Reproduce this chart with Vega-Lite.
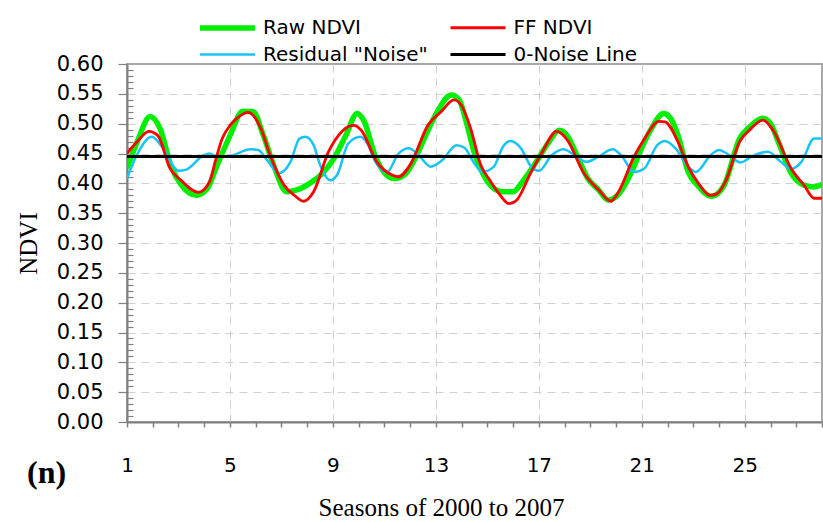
{
  "$schema": "https://vega.github.io/schema/vega-lite/v6.json",
  "autosize": {"type": "none"},
  "padding": {"left": 127, "top": 64, "right": 1, "bottom": 100},
  "width": 695,
  "height": 358,
  "background": "white",
  "config": {
    "view": {"stroke": "#a8a8a8", "strokeWidth": 2},
    "font": "DejaVu Sans"
  },
  "title": {
    "text": "(n)",
    "orient": "bottom",
    "anchor": "start",
    "frame": "group",
    "font": "Liberation Serif",
    "fontWeight": "bold",
    "fontSize": 32,
    "color": "black",
    "offset": -62,
    "dx": -100
  },
  "data": {
    "values": [
      {"s": 1.0, "v": 0.425, "series": "Raw NDVI"},
      {"s": 1.4, "v": 0.47, "series": "Raw NDVI"},
      {"s": 1.9, "v": 0.512, "series": "Raw NDVI"},
      {"s": 2.3, "v": 0.49, "series": "Raw NDVI"},
      {"s": 2.7, "v": 0.43, "series": "Raw NDVI"},
      {"s": 3.1, "v": 0.398, "series": "Raw NDVI"},
      {"s": 3.7, "v": 0.38, "series": "Raw NDVI"},
      {"s": 4.1, "v": 0.39, "series": "Raw NDVI"},
      {"s": 4.5, "v": 0.43, "series": "Raw NDVI"},
      {"s": 5.0, "v": 0.48, "series": "Raw NDVI"},
      {"s": 5.5, "v": 0.521, "series": "Raw NDVI"},
      {"s": 5.9, "v": 0.52, "series": "Raw NDVI"},
      {"s": 6.3, "v": 0.48, "series": "Raw NDVI"},
      {"s": 6.7, "v": 0.43, "series": "Raw NDVI"},
      {"s": 7.2, "v": 0.386, "series": "Raw NDVI"},
      {"s": 7.6, "v": 0.389, "series": "Raw NDVI"},
      {"s": 8.1, "v": 0.4, "series": "Raw NDVI"},
      {"s": 8.6, "v": 0.417, "series": "Raw NDVI"},
      {"s": 9.0, "v": 0.439, "series": "Raw NDVI"},
      {"s": 9.5, "v": 0.48, "series": "Raw NDVI"},
      {"s": 9.94, "v": 0.517, "series": "Raw NDVI"},
      {"s": 10.2, "v": 0.505, "series": "Raw NDVI"},
      {"s": 10.65, "v": 0.445, "series": "Raw NDVI"},
      {"s": 11.0, "v": 0.418, "series": "Raw NDVI"},
      {"s": 11.4, "v": 0.408, "series": "Raw NDVI"},
      {"s": 11.8, "v": 0.415, "series": "Raw NDVI"},
      {"s": 12.2, "v": 0.442, "series": "Raw NDVI"},
      {"s": 12.6, "v": 0.48, "series": "Raw NDVI"},
      {"s": 12.98, "v": 0.514, "series": "Raw NDVI"},
      {"s": 13.6, "v": 0.548, "series": "Raw NDVI"},
      {"s": 13.9, "v": 0.54, "series": "Raw NDVI"},
      {"s": 14.2, "v": 0.5, "series": "Raw NDVI"},
      {"s": 14.5, "v": 0.45, "series": "Raw NDVI"},
      {"s": 14.9, "v": 0.41, "series": "Raw NDVI"},
      {"s": 15.3, "v": 0.39, "series": "Raw NDVI"},
      {"s": 15.6, "v": 0.386, "series": "Raw NDVI"},
      {"s": 16.0, "v": 0.386, "series": "Raw NDVI"},
      {"s": 16.4, "v": 0.405, "series": "Raw NDVI"},
      {"s": 16.9, "v": 0.436, "series": "Raw NDVI"},
      {"s": 17.4, "v": 0.47, "series": "Raw NDVI"},
      {"s": 17.8, "v": 0.489, "series": "Raw NDVI"},
      {"s": 18.1, "v": 0.48, "series": "Raw NDVI"},
      {"s": 18.5, "v": 0.445, "series": "Raw NDVI"},
      {"s": 18.9, "v": 0.408, "series": "Raw NDVI"},
      {"s": 19.3, "v": 0.39, "series": "Raw NDVI"},
      {"s": 19.7, "v": 0.372, "series": "Raw NDVI"},
      {"s": 20.1, "v": 0.382, "series": "Raw NDVI"},
      {"s": 20.6, "v": 0.419, "series": "Raw NDVI"},
      {"s": 21.0, "v": 0.46, "series": "Raw NDVI"},
      {"s": 21.35, "v": 0.49, "series": "Raw NDVI"},
      {"s": 21.85, "v": 0.517, "series": "Raw NDVI"},
      {"s": 22.1, "v": 0.51, "series": "Raw NDVI"},
      {"s": 22.4, "v": 0.481, "series": "Raw NDVI"},
      {"s": 22.8, "v": 0.419, "series": "Raw NDVI"},
      {"s": 23.2, "v": 0.395, "series": "Raw NDVI"},
      {"s": 23.7, "v": 0.378, "series": "Raw NDVI"},
      {"s": 24.2, "v": 0.397, "series": "Raw NDVI"},
      {"s": 24.8, "v": 0.475, "series": "Raw NDVI"},
      {"s": 25.2, "v": 0.495, "series": "Raw NDVI"},
      {"s": 25.7, "v": 0.509, "series": "Raw NDVI"},
      {"s": 26.0, "v": 0.5, "series": "Raw NDVI"},
      {"s": 26.3, "v": 0.47, "series": "Raw NDVI"},
      {"s": 26.8, "v": 0.417, "series": "Raw NDVI"},
      {"s": 27.3, "v": 0.397, "series": "Raw NDVI"},
      {"s": 27.7, "v": 0.394, "series": "Raw NDVI"},
      {"s": 28.0, "v": 0.398, "series": "Raw NDVI"},

      {"s": 1.0, "v": 0.408, "series": "Residual \"Noise\""},
      {"s": 1.38, "v": 0.447, "series": "Residual \"Noise\""},
      {"s": 1.96, "v": 0.478, "series": "Residual \"Noise\""},
      {"s": 2.4, "v": 0.459, "series": "Residual \"Noise\""},
      {"s": 3.0, "v": 0.421, "series": "Residual \"Noise\""},
      {"s": 3.3, "v": 0.423, "series": "Residual \"Noise\""},
      {"s": 3.97, "v": 0.447, "series": "Residual \"Noise\""},
      {"s": 4.2, "v": 0.45, "series": "Residual \"Noise\""},
      {"s": 4.5, "v": 0.445, "series": "Residual \"Noise\""},
      {"s": 5.0, "v": 0.446, "series": "Residual \"Noise\""},
      {"s": 5.8, "v": 0.457, "series": "Residual \"Noise\""},
      {"s": 6.1, "v": 0.456, "series": "Residual \"Noise\""},
      {"s": 6.44, "v": 0.439, "series": "Residual \"Noise\""},
      {"s": 6.9, "v": 0.417, "series": "Residual \"Noise\""},
      {"s": 7.35, "v": 0.436, "series": "Residual \"Noise\""},
      {"s": 7.7, "v": 0.475, "series": "Residual \"Noise\""},
      {"s": 7.93, "v": 0.478, "series": "Residual \"Noise\""},
      {"s": 8.25, "v": 0.464, "series": "Residual \"Noise\""},
      {"s": 8.5, "v": 0.431, "series": "Residual \"Noise\""},
      {"s": 8.9, "v": 0.405, "series": "Residual \"Noise\""},
      {"s": 9.16, "v": 0.414, "series": "Residual \"Noise\""},
      {"s": 9.6, "v": 0.467, "series": "Residual \"Noise\""},
      {"s": 10.07, "v": 0.478, "series": "Residual \"Noise\""},
      {"s": 10.33, "v": 0.467, "series": "Residual \"Noise\""},
      {"s": 10.65, "v": 0.436, "series": "Residual \"Noise\""},
      {"s": 11.1, "v": 0.419, "series": "Residual \"Noise\""},
      {"s": 11.55, "v": 0.45, "series": "Residual \"Noise\""},
      {"s": 11.95, "v": 0.459, "series": "Residual \"Noise\""},
      {"s": 12.33, "v": 0.447, "series": "Residual \"Noise\""},
      {"s": 12.8, "v": 0.428, "series": "Residual \"Noise\""},
      {"s": 13.25, "v": 0.439, "series": "Residual \"Noise\""},
      {"s": 13.8, "v": 0.464, "series": "Residual \"Noise\""},
      {"s": 14.1, "v": 0.46, "series": "Residual \"Noise\""},
      {"s": 14.5, "v": 0.433, "series": "Residual \"Noise\""},
      {"s": 14.8, "v": 0.419, "series": "Residual \"Noise\""},
      {"s": 15.25, "v": 0.428, "series": "Residual \"Noise\""},
      {"s": 15.6, "v": 0.461, "series": "Residual \"Noise\""},
      {"s": 15.9, "v": 0.471, "series": "Residual \"Noise\""},
      {"s": 16.3, "v": 0.459, "series": "Residual \"Noise\""},
      {"s": 16.7, "v": 0.428, "series": "Residual \"Noise\""},
      {"s": 17.0, "v": 0.421, "series": "Residual \"Noise\""},
      {"s": 17.5, "v": 0.447, "series": "Residual \"Noise\""},
      {"s": 17.95, "v": 0.457, "series": "Residual \"Noise\""},
      {"s": 18.4, "v": 0.447, "series": "Residual \"Noise\""},
      {"s": 18.85, "v": 0.436, "series": "Residual \"Noise\""},
      {"s": 19.4, "v": 0.447, "series": "Residual \"Noise\""},
      {"s": 19.86, "v": 0.457, "series": "Residual \"Noise\""},
      {"s": 20.2, "v": 0.447, "series": "Residual \"Noise\""},
      {"s": 20.7, "v": 0.419, "series": "Residual \"Noise\""},
      {"s": 21.1, "v": 0.425, "series": "Residual \"Noise\""},
      {"s": 21.6, "v": 0.464, "series": "Residual \"Noise\""},
      {"s": 21.9, "v": 0.471, "series": "Residual \"Noise\""},
      {"s": 22.3, "v": 0.459, "series": "Residual \"Noise\""},
      {"s": 22.8, "v": 0.428, "series": "Residual \"Noise\""},
      {"s": 23.1, "v": 0.419, "series": "Residual \"Noise\""},
      {"s": 23.67, "v": 0.447, "series": "Residual \"Noise\""},
      {"s": 24.0, "v": 0.456, "series": "Residual \"Noise\""},
      {"s": 24.3, "v": 0.45, "series": "Residual \"Noise\""},
      {"s": 24.84, "v": 0.435, "series": "Residual \"Noise\""},
      {"s": 25.35, "v": 0.447, "series": "Residual \"Noise\""},
      {"s": 25.9, "v": 0.453, "series": "Residual \"Noise\""},
      {"s": 26.4, "v": 0.436, "series": "Residual \"Noise\""},
      {"s": 26.8, "v": 0.424, "series": "Residual \"Noise\""},
      {"s": 27.2, "v": 0.436, "series": "Residual \"Noise\""},
      {"s": 27.7, "v": 0.475, "series": "Residual \"Noise\""},
      {"s": 28.0, "v": 0.475, "series": "Residual \"Noise\""},

      {"s": 1.0, "v": 0.45, "series": "FF NDVI"},
      {"s": 1.4, "v": 0.47, "series": "FF NDVI"},
      {"s": 1.85, "v": 0.487, "series": "FF NDVI"},
      {"s": 2.2, "v": 0.48, "series": "FF NDVI"},
      {"s": 2.67, "v": 0.425, "series": "FF NDVI"},
      {"s": 3.1, "v": 0.405, "series": "FF NDVI"},
      {"s": 3.77, "v": 0.385, "series": "FF NDVI"},
      {"s": 4.2, "v": 0.402, "series": "FF NDVI"},
      {"s": 4.45, "v": 0.44, "series": "FF NDVI"},
      {"s": 4.7, "v": 0.475, "series": "FF NDVI"},
      {"s": 5.0, "v": 0.497, "series": "FF NDVI"},
      {"s": 5.3, "v": 0.51, "series": "FF NDVI"},
      {"s": 5.7, "v": 0.519, "series": "FF NDVI"},
      {"s": 6.2, "v": 0.492, "series": "FF NDVI"},
      {"s": 6.56, "v": 0.447, "series": "FF NDVI"},
      {"s": 7.1, "v": 0.397, "series": "FF NDVI"},
      {"s": 7.5, "v": 0.38, "series": "FF NDVI"},
      {"s": 7.86, "v": 0.37, "series": "FF NDVI"},
      {"s": 8.25, "v": 0.386, "series": "FF NDVI"},
      {"s": 8.83, "v": 0.453, "series": "FF NDVI"},
      {"s": 9.35, "v": 0.487, "series": "FF NDVI"},
      {"s": 9.8, "v": 0.497, "series": "FF NDVI"},
      {"s": 10.1, "v": 0.489, "series": "FF NDVI"},
      {"s": 10.7, "v": 0.436, "series": "FF NDVI"},
      {"s": 11.3, "v": 0.414, "series": "FF NDVI"},
      {"s": 11.55, "v": 0.411, "series": "FF NDVI"},
      {"s": 12.0, "v": 0.431, "series": "FF NDVI"},
      {"s": 12.7, "v": 0.498, "series": "FF NDVI"},
      {"s": 13.2, "v": 0.52, "series": "FF NDVI"},
      {"s": 13.7, "v": 0.54, "series": "FF NDVI"},
      {"s": 14.0, "v": 0.53, "series": "FF NDVI"},
      {"s": 14.35, "v": 0.492, "series": "FF NDVI"},
      {"s": 14.74, "v": 0.431, "series": "FF NDVI"},
      {"s": 15.1, "v": 0.405, "series": "FF NDVI"},
      {"s": 15.5, "v": 0.38, "series": "FF NDVI"},
      {"s": 15.84, "v": 0.366, "series": "FF NDVI"},
      {"s": 16.1, "v": 0.37, "series": "FF NDVI"},
      {"s": 16.7, "v": 0.419, "series": "FF NDVI"},
      {"s": 17.1, "v": 0.45, "series": "FF NDVI"},
      {"s": 17.7, "v": 0.487, "series": "FF NDVI"},
      {"s": 18.1, "v": 0.473, "series": "FF NDVI"},
      {"s": 18.75, "v": 0.417, "series": "FF NDVI"},
      {"s": 19.3, "v": 0.39, "series": "FF NDVI"},
      {"s": 19.8, "v": 0.37, "series": "FF NDVI"},
      {"s": 20.1, "v": 0.386, "series": "FF NDVI"},
      {"s": 20.7, "v": 0.445, "series": "FF NDVI"},
      {"s": 21.08, "v": 0.473, "series": "FF NDVI"},
      {"s": 21.66, "v": 0.504, "series": "FF NDVI"},
      {"s": 21.9, "v": 0.503, "series": "FF NDVI"},
      {"s": 22.4, "v": 0.47, "series": "FF NDVI"},
      {"s": 22.8, "v": 0.428, "series": "FF NDVI"},
      {"s": 23.2, "v": 0.4, "series": "FF NDVI"},
      {"s": 23.65, "v": 0.38, "series": "FF NDVI"},
      {"s": 23.9, "v": 0.382, "series": "FF NDVI"},
      {"s": 24.25, "v": 0.403, "series": "FF NDVI"},
      {"s": 24.8, "v": 0.47, "series": "FF NDVI"},
      {"s": 25.2, "v": 0.49, "series": "FF NDVI"},
      {"s": 25.7, "v": 0.506, "series": "FF NDVI"},
      {"s": 26.1, "v": 0.489, "series": "FF NDVI"},
      {"s": 26.8, "v": 0.425, "series": "FF NDVI"},
      {"s": 27.3, "v": 0.397, "series": "FF NDVI"},
      {"s": 27.7, "v": 0.375, "series": "FF NDVI"},
      {"s": 28.0, "v": 0.375, "series": "FF NDVI"},

      {"s": 1.0, "v": 0.445, "series": "0-Noise Line"},
      {"s": 28.0, "v": 0.445, "series": "0-Noise Line"}
    ]
  },
  "mark": {"type": "line", "interpolate": "monotone", "clip": true},
  "encoding": {
    "x": {
      "field": "s",
      "type": "quantitative",
      "scale": {"domain": [1, 28], "nice": false, "zero": false},
      "axis": {
        "title": "Seasons of 2000 to 2007",
        "titleFont": "Liberation Serif",
        "titleFontSize": 25,
        "titleFontWeight": "normal",
        "titleColor": "black",
        "titleX": 314,
        "titleY": 85,
        "titleAlign": "center",
        "titleBaseline": "middle",
        "values": [1,2,3,4,5,6,7,8,9,10,11,12,13,14,15,16,17,18,19,20,21,22,23,24,25,26,27,28],
        "labelExpr": "(datum.value - 1) % 4 === 0 && datum.value < 28 ? datum.label : ''",
        "labelFont": "DejaVu Sans",
        "labelFontSize": 20,
        "labelColor": "black",
        "labelPadding": 28,
        "labelFlush": false,
        "labelOverlap": false,
        "tickSize": 5,
        "tickColor": "#808080",
        "tickWidth": 1.5,
        "domainColor": "#808080",
        "domainWidth": 2,
        "grid": true,
        "gridColor": "#d0d0d0",
        "gridDash": [8, 6],
        "gridWidth": 1,
        "gridOpacity": {"condition": {"test": "(datum.value - 1) % 4 === 0 && datum.value > 1 && datum.value < 28", "value": 1}, "value": 0}
      }
    },
    "y": {
      "field": "v",
      "type": "quantitative",
      "scale": {"domain": [0, 0.6], "nice": false},
      "axis": {
        "title": "NDVI",
        "titleFont": "Liberation Serif",
        "titleFontSize": 25,
        "titleFontWeight": "normal",
        "titleColor": "black",
        "titleAngle": 270,
        "titleX": -99,
        "titleY": 179,
        "titleAlign": "center",
        "titleBaseline": "middle",
        "values": [0,0.01,0.02,0.03,0.04,0.05,0.06,0.07,0.08,0.09,0.1,0.11,0.12,0.13,0.14,0.15,0.16,0.17,0.18,0.19,0.2,0.21,0.22,0.23,0.24,0.25,0.26,0.27,0.28,0.29,0.3,0.31,0.32,0.33,0.34,0.35,0.36,0.37,0.38,0.39,0.4,0.41,0.42,0.43,0.44,0.45,0.46,0.47,0.48,0.49,0.5,0.51,0.52,0.53,0.54,0.55,0.56,0.57,0.58,0.59,0.6],
        "labelExpr": "round(datum.value * 100) % 5 === 0 ? format(datum.value, '.2f') : ''",
        "labelFont": "DejaVu Sans",
        "labelFontSize": 21,
        "labelColor": "black",
        "labelPadding": 15,
        "labelOverlap": false,
        "labelFlush": false,
        "tickSize": {"condition": {"test": "round(datum.value * 100) % 5 === 0", "value": 9}, "value": -6},
        "tickColor": "#808080",
        "tickWidth": 1.2,
        "domainColor": "#808080",
        "domainWidth": 2,
        "grid": true,
        "gridColor": "#d0d0d0",
        "gridDash": [8, 6],
        "gridWidth": 1,
        "gridOpacity": {"condition": {"test": "round(datum.value * 100) % 5 === 0 && datum.value > 0.001 && datum.value < 0.599", "value": 1}, "value": 0}
      }
    },
    "color": {
      "field": "series",
      "type": "nominal",
      "scale": {
        "domain": ["Raw NDVI", "Residual \"Noise\"", "FF NDVI", "0-Noise Line"],
        "range": ["#00ee00", "#19c3f5", "#ff0000", "#000000"]
      },
      "legend": {
        "title": null,
        "orient": "none",
        "legendX": 86.5,
        "legendY": -50,
        "columns": 2,
        "symbolType": "M-2.5,0H2.5",
        "symbolSize": 484,
        "labelFont": "DejaVu Sans",
        "labelFontSize": 20,
        "labelColor": "black",
        "labelLimit": 400,
        "labelOffset": 21.5,
        "columnPadding": 15.5,
        "rowPadding": 3,
        "padding": 0
      }
    },
    "strokeWidth": {
      "field": "series",
      "type": "nominal",
      "scale": {
        "type": "ordinal",
        "domain": ["Raw NDVI", "Residual \"Noise\"", "FF NDVI", "0-Noise Line"],
        "range": [5.5, 2.5, 2.8, 2.8]
      },
      "legend": {
        "title": null,
        "orient": "none",
        "legendX": 86.5,
        "legendY": -50,
        "columns": 2,
        "symbolType": "M-2.5,0H2.5",
        "symbolSize": 484,
        "labelFont": "DejaVu Sans",
        "labelFontSize": 20,
        "labelColor": "black",
        "labelLimit": 400,
        "labelOffset": 21.5,
        "columnPadding": 15.5,
        "rowPadding": 3,
        "padding": 0
      }
    }
  }
}
